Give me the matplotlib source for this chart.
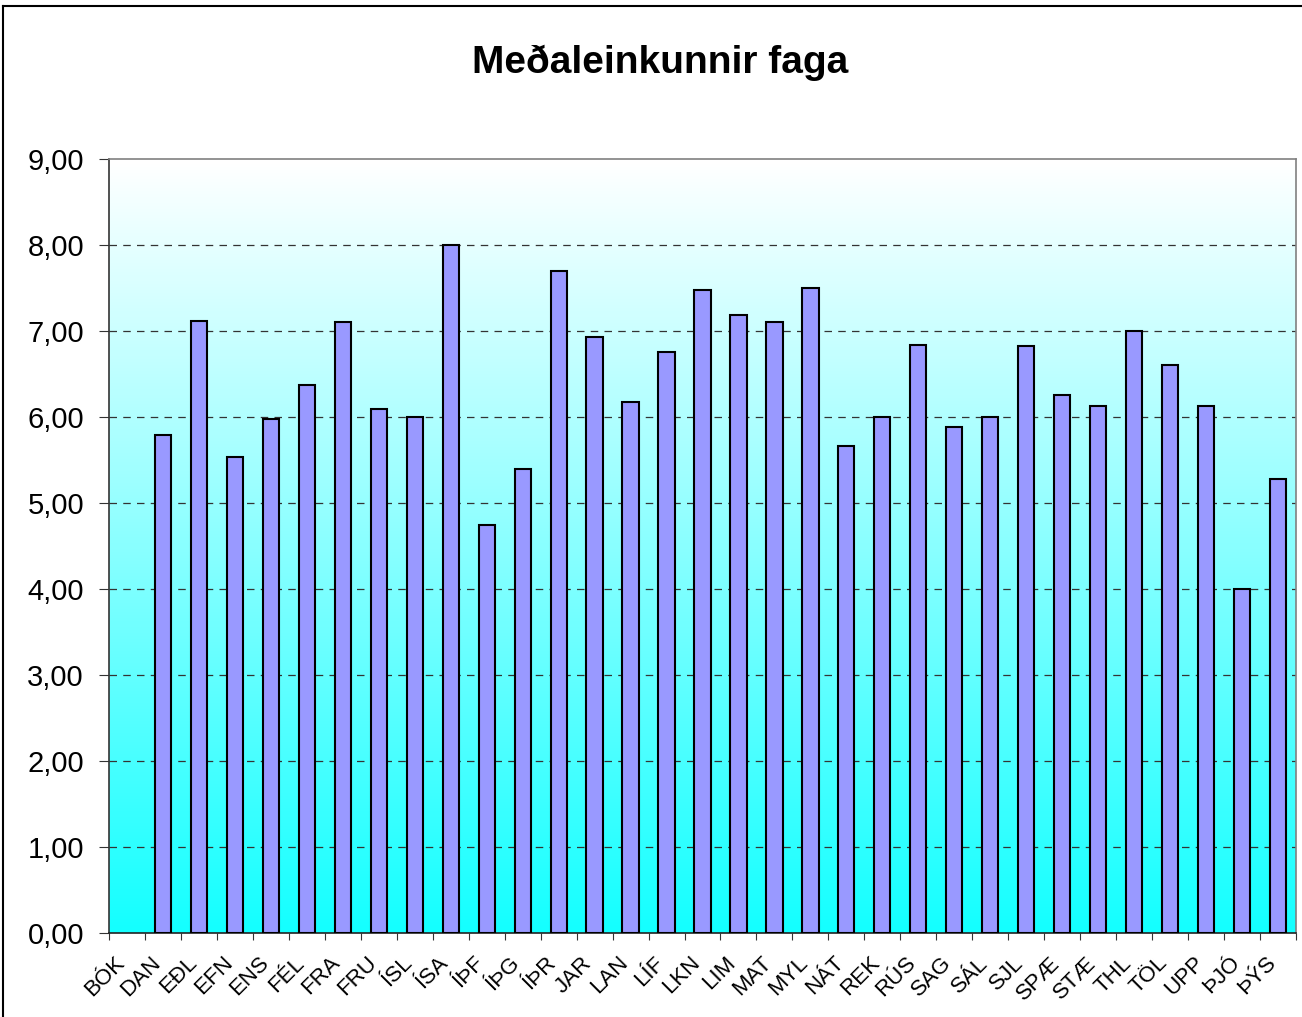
import numpy as np
import matplotlib
matplotlib.use("Agg")
import matplotlib.pyplot as plt
from matplotlib.colors import LinearSegmentedColormap
from matplotlib.ticker import FixedLocator, MultipleLocator, FuncFormatter
from matplotlib.lines import Line2D
import matplotlib.transforms as mtransforms

categories = ["BÓK", "DAN", "EÐL", "EFN", "ENS", "FÉL", "FRA", "FRU", "ÍSL", "ÍSA",
              "ÍÞF", "ÍÞG", "ÍÞR", "JAR", "LAN", "LÍF", "LKN", "LIM", "MAT", "MYL",
              "NÁT", "REK", "RÚS", "SAG", "SÁL", "SJL", "SPÆ", "STÆ", "THL", "TÖL",
              "UPP", "ÞJÓ", "ÞÝS"]
values = [0.0, 5.79, 7.12, 5.53, 5.98, 6.37, 7.10, 6.09, 6.00, 8.00,
          4.75, 5.39, 7.70, 6.93, 6.18, 6.76, 7.48, 7.19, 7.10, 7.50,
          5.66, 6.00, 6.84, 5.88, 6.00, 6.82, 6.26, 6.13, 7.00, 6.61,
          6.13, 4.00, 5.28]
title = "Meðaleinkunnir faga"

plt.rcParams['font.family'] = ['Liberation Sans', 'DejaVu Sans']

W, H = 1302, 1017
fig = plt.figure(figsize=(W / 100, H / 100), dpi=100)

left, right, top, bottom = 109, 1296, 159, 933
ax = fig.add_axes([left / W, 1 - bottom / H, (right - left) / W, (bottom - top) / H])

n = len(categories)
x = np.arange(n)

# gradient background: white at top, cyan at bottom
cmap = LinearSegmentedColormap.from_list("bg", ["#FFFFFF", "#14FFFF"])
grad = np.linspace(0, 1, 256).reshape(-1, 1)
ax.imshow(grad, extent=(-0.5, n - 0.5, 0, 9), origin='upper', aspect='auto',
          cmap=cmap, zorder=0, interpolation='bicubic')

bars = ax.bar(x, values, width=0.45, color="#9999FF", edgecolor="black",
              linewidth=1.5, zorder=3)
for b, v in zip(bars, values):
    if v == 0:
        b.set_visible(False)

ax.set_xlim(-0.5, n - 0.5)
ax.set_ylim(0, 9)

ax.yaxis.set_major_locator(MultipleLocator(1))
ax.yaxis.set_major_formatter(FuncFormatter(lambda v, p: f"{v:.2f}".replace(".", ",")))
ax.tick_params(axis='y', labelsize=21, length=7, width=0.8, color='#333333', pad=11)

for yv in range(1, 9):
    ax.axhline(yv, color='#333333', linewidth=0.9, linestyle=(0, (6, 5)), zorder=2)

ax.xaxis.set_major_locator(FixedLocator(np.arange(-0.5, n, 1.0)))
ax.xaxis.set_major_formatter(FuncFormatter(lambda v, p: ""))
ax.set_xticks(x, minor=True)
ax.set_xticklabels(categories, minor=True, rotation=45, ha='right', va='top',
                   rotation_mode='anchor', fontsize=16)
ax.tick_params(axis='x', which='major', length=5, width=0.8, color='#333333')
ax.tick_params(axis='x', which='minor', length=0, pad=14)
offset = mtransforms.ScaledTranslation(-13 / 100, 0, fig.dpi_scale_trans)
for lab in ax.get_xticklabels(minor=True):
    lab.set_transform(lab.get_transform() + offset)

ax.spines['left'].set_color('#333333')
ax.spines['bottom'].set_color('#222222')
ax.spines['top'].set_color('#808080')
ax.spines['right'].set_color('#808080')
for s in ax.spines.values():
    s.set_linewidth(1.2)

fig.text(660 / W, 1 - 63 / H, title, ha='center', va='center', fontsize=28,
         fontweight='bold')

# outer chart frame (top and left edges visible)
fig.add_artist(Line2D([3 / W, 3 / W], [0, 1 - 6 / H], transform=fig.transFigure,
                      color='black', linewidth=1.5))
fig.add_artist(Line2D([3 / W, 1], [1 - 6 / H, 1 - 6 / H], transform=fig.transFigure,
                      color='black', linewidth=1.5))

fig.savefig("out.png", dpi=100)
